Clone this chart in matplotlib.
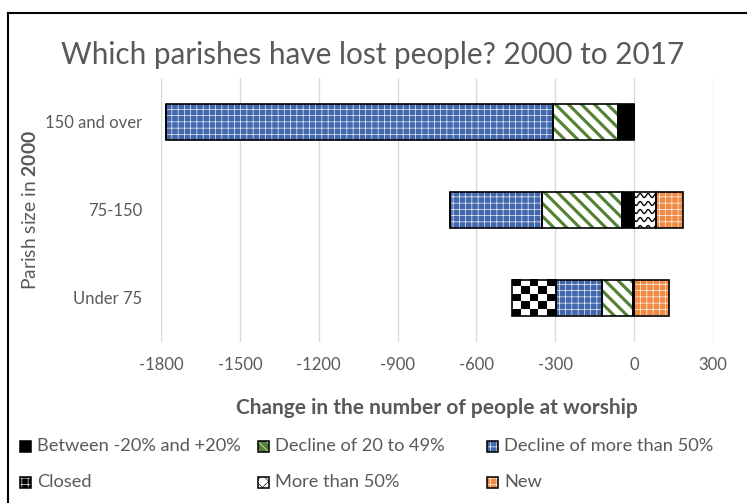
import numpy as np
import matplotlib
matplotlib.use("Agg")
import matplotlib.pyplot as plt
from matplotlib.patches import Rectangle
from matplotlib.lines import Line2D

# Data
categories = ["150 and over", "75-150", "Under 75"]
between = [-60, -45, -5]
decline_20_49 = [-250, -307, -117]
decline_50 = [-1470, -349, -176]
closed = [0, 0, -166]
more_50 = [0, 83, 0]
new = [0, 101, 131]
xticks = list(range(-1800, 301, 300))

plt.rcParams["font.family"] = ["Lato", "DejaVu Sans"]
plt.rcParams["mathtext.fontset"] = "custom"
plt.rcParams["mathtext.rm"] = "Lato"
plt.rcParams["mathtext.bf"] = "Lato:bold"
plt.rcParams["hatch.linewidth"] = 0.6
grey = "#595959"
green = "#548235"
blue = "#4267AD"
orange = "#F08A44"

DPI = 75
fig = plt.figure(figsize=(747 / DPI, 503 / DPI), dpi=DPI)
ax = fig.add_axes([161 / 747, 1 - 342 / 503, (713 - 161) / 747, (342 - 78) / 503])

y = np.arange(len(categories))
h = 0.42


def seg(vals, left, face, hatch=None, hcol=None):
    ax.barh(y, vals, left=left, height=h, color=face,
            edgecolor=hcol if hcol else face, linewidth=0,
            hatch=hatch, zorder=2)
    ax.barh(y, vals, left=left, height=h, fill=False, edgecolor="black",
            linewidth=1.6, zorder=4)
    return np.array(left) + np.array(vals)


left = np.zeros(3)
left = seg(between, left, "black")
d20_left = left.copy()
left = seg(decline_20_49, left, "white")
left = seg(decline_50, left, blue, "++", "white")
closed_left = left.copy()
left = seg(closed, left, "white")
pos = np.zeros(3)
more_left = pos.copy()
pos = seg(more_50, pos, "white")
pos = seg(new, pos, orange, "++", "white")

ax.set_xlim(-1800, 300)
ax.set_ylim(2.5, -0.5)

# pixel scales
bbox = ax.get_window_extent()
px_x = bbox.width / 2100
px_y = bbox.height / 3.0

# green diagonal stripes for "Decline of 20 to 49%"
for i in range(3):
    x0, x1 = d20_left[i] + decline_20_49[i], d20_left[i]
    clip = Rectangle((x0, y[i] - h / 2), x1 - x0, h, transform=ax.transData)
    slope = px_x / px_y
    span = h / slope
    for c in np.arange(x0 - span, x1 + 13 / px_x, 13 / px_x):
        ln, = ax.plot([c, c + span], [y[i] - h / 2, y[i] + h / 2],
                      color=green, lw=3.0, zorder=3, solid_capstyle="butt")
        ln.set_clip_path(clip)

# checkerboard for "Closed"
for i in range(3):
    if closed[i] == 0:
        continue
    x0, x1 = closed_left[i] + closed[i], closed_left[i]
    nc = max(1, int(round(abs(x1 - x0) * px_x / 8)))
    nr = max(1, int(round(h * px_y / 8)))
    board = np.indices((nr, nc)).sum(axis=0) % 2
    ax.imshow(board, cmap="gray", extent=(x0, x1, y[i] + h / 2, y[i] - h / 2),
              interpolation="nearest", aspect="auto", zorder=3)

# wavy lines for "More than 50%"
for i in range(3):
    if more_50[i] == 0:
        continue
    x0, x1 = more_left[i], more_left[i] + more_50[i]
    xs = np.linspace(x0, x1, 200)
    clip = Rectangle((x0, y[i] - h / 2), x1 - x0, h, transform=ax.transData)
    step = 8 / px_y
    for k in np.arange(y[i] - h / 2 + step / 2, y[i] + h / 2, step):
        ys = k + (2 / px_y) * np.sin(2 * np.pi * (xs - x0) * px_x / 8)
        ln, = ax.plot(xs, ys, color="black", lw=1.3, zorder=3)
        ln.set_clip_path(clip)

ax.set_xlim(-1800, 300)
ax.set_ylim(2.5, -0.5)
ax.set_xticks(xticks)
ax.set_xticklabels([str(t) for t in xticks])
ax.set_yticks(y)
ax.set_yticklabels(categories)
ax.tick_params(length=0, labelcolor=grey, labelsize=16)
ax.tick_params(axis="x", pad=14)
ax.tick_params(axis="y", pad=18)
ax.grid(axis="x", color="#D9D9D9", lw=1.3, zorder=0)
ax.set_axisbelow(True)
for s in ax.spines.values():
    s.set_visible(False)

ax.set_xlabel("Change in the number of people at worship", fontsize=20,
              fontweight="bold", color=grey, labelpad=24)

fig.text(30 / 747, 1 - 210 / 503, r"Parish size in $\mathbf{2000}$", rotation=90,
         ha="center", va="center", fontsize=18.5, color=grey)

fig.text(373 / 747, 1 - 55 / 503, "Which parishes have lost people? 2000 to 2017",
         ha="center", va="center", fontsize=28.5, color=grey)

# outer frame (left and top only)
fig.add_artist(Line2D([8 / 747, 8 / 747], [0, 1 - 13 / 503], color="black", lw=2))
fig.add_artist(Line2D([8 / 747, 1], [1 - 13 / 503, 1 - 13 / 503], color="black", lw=2))

# legend
items = [
    ("Between -20% and +20%", "black", None, None, 20, 446),
    ("Decline of 20 to 49%", green, "\\\\\\", "white", 258, 446),
    ("Decline of more than 50%", blue, "++", "white", 487, 446),
    ("Closed", "black", "++", "white", 20, 482),
    ("More than 50%", "white", "xx", "black", 258, 482),
    ("New", orange, "++", "white", 487, 482),
]
s = 11
for label, face, hatch, hcol, xp, yp in items:
    r = Rectangle((xp / 747, 1 - (yp + s / 2) / 503), s / 747, s / 503,
                  transform=fig.transFigure, facecolor=face,
                  edgecolor=hcol if hcol else face, lw=0, hatch=hatch)
    fig.add_artist(r)
    fig.add_artist(Rectangle((xp / 747, 1 - (yp + s / 2) / 503), s / 747, s / 503,
                             transform=fig.transFigure, fill=False,
                             edgecolor="black", lw=1.5))
    fig.text((xp + 17) / 747, 1 - yp / 503, label, ha="left", va="center",
             fontsize=17.5, color=grey)

fig.savefig("out.png", dpi=DPI)
